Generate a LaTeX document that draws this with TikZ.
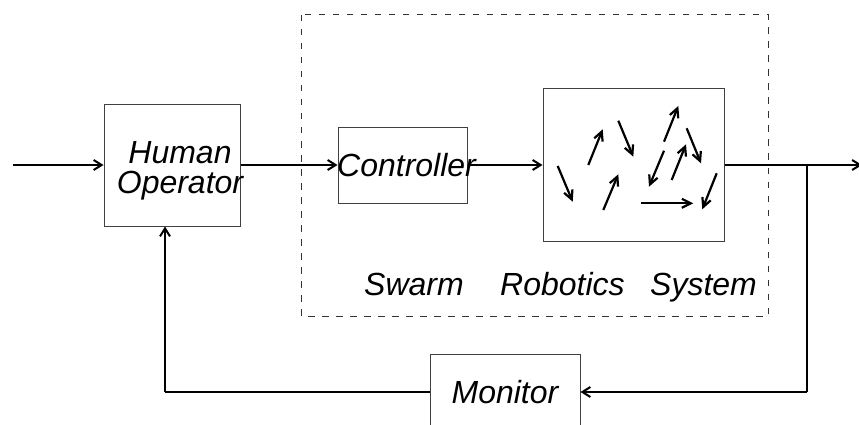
\documentclass[tikz,border=0pt]{standalone}
\usepackage{fontspec}
\setmainfont{Liberation Sans}
\usetikzlibrary{arrows.meta}
\tikzset{
  blk/.style={draw=black!75, line width=1pt, inner sep=0pt},
  lbl/.style={inner sep=0pt, font=\fontsize{32}{30}\selectfont\itshape},
  conn/.style={line width=2pt, -{Straight Barb[length=8pt,width=10pt]}},
  plain/.style={line width=1.6pt},
  bot/.style={line width=2.2pt, -{Straight Barb[length=9pt,width=9pt]}},
  region/.style={draw=black!80, line width=1pt, dash pattern=on 6.5pt off 7.5pt}
}
\begin{document}
\begin{tikzpicture}[x=1pt,y=-1pt]
\useasboundingbox (0,0) rectangle (859,425);
\clip (0,0) rectangle (859,425);

% dashed region of the swarm system
\draw[region] (301,15) rectangle (768,316);
\node[lbl, anchor=base west] (swarmw) at (364,295) {Swarm};
\node[lbl, anchor=base west] (robw) at (500,295) {Robotics};
\node[lbl, anchor=base west] (sysw) at (650,295) {System};

% blocks
\node[blk, minimum width=136pt, minimum height=121pt] (human) at (172,165.5) {};
\node[lbl, align=center] (humantxt) at (180,171) {Human\\Operator};
\node[blk, minimum width=129pt, minimum height=75pt] (ctrl) at (402.5,165.5) {};
\node[lbl, anchor=west] (ctrltxt) at (337,165) {Controller};
\node[blk, minimum width=181pt, minimum height=152pt] (swarm) at (633.5,165) {};
\node[blk, lbl, minimum width=150pt, minimum height=76pt] (monitor) at (505,392) {Monitor};

% individual robots inside the swarm block
\draw[bot] (557.7,166) -- (572.7,201.7);
\draw[bot] (588.3,165) -- (602.7,129.3);
\draw[bot] (618.3,120.7) -- (633.3,156.7);
\draw[bot] (603.3,210) -- (618.3,174.3);
\draw[bot] (664,141.7) -- (678.3,106);
\draw[bot] (664,150.7) -- (649,186.7);
\draw[bot] (671.7,180) -- (686,144.3);
\draw[bot] (686.7,128.3) -- (701,163.3);
\draw[bot] (716.7,173.3) -- (702.3,209.3);
\draw[bot] (641,203.3) -- (693.3,203.3);

% signal path
\coordinate (in) at (13,165);
\coordinate (out) at (862,165);
\coordinate (tap) at (807,165);
\coordinate (fb) at (165,392);
\draw[conn] (in) -- (in -| human.west);
\draw[conn] (human.east |- in) -- (ctrl.west |- in);
\draw[conn] (ctrl.east |- in) -- (swarm.west |- in);
\draw[conn] (swarm.east |- in) -- (out);

% feedback through the monitor
\draw[plain] (tap) -- (tap |- monitor.east);
\draw[conn] (tap |- monitor.east) -- (monitor.east);
\draw[plain] (monitor.west) -- (fb);
\draw[conn] (fb) -- (fb |- human.south);
\end{tikzpicture}
\end{document}
